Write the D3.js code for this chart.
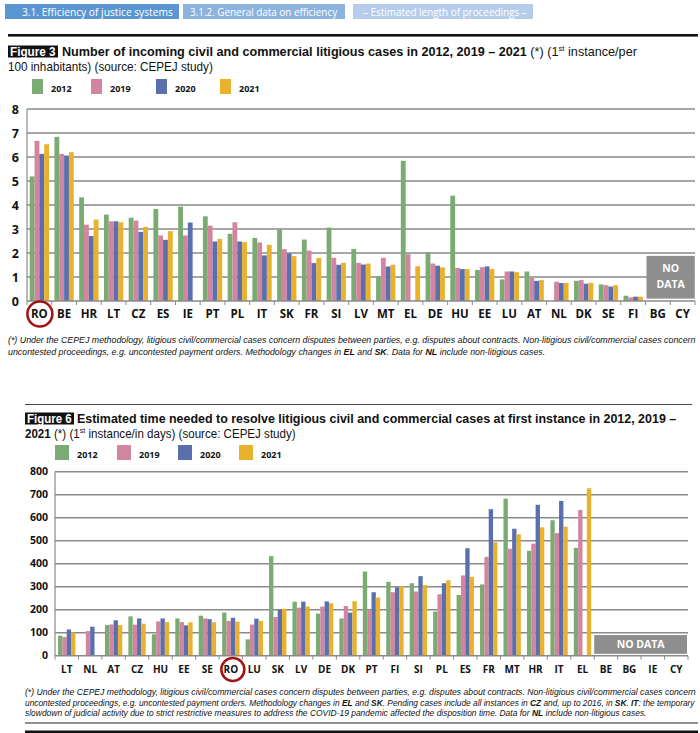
<!DOCTYPE html>
<html><head><meta charset="utf-8">
<script src="https://cdn.jsdelivr.net/npm/d3@7"></script>
<style>body{margin:0;background:#fff}svg{display:block}</style>
</head><body>
<svg id="c" width="700" height="733"></svg>
<script>
const seriesNames = ["2012","2019","2020","2021"];
const seriesColors = ["#7aab72","#d3859f","#5a6fae","#e9b12c"];

const fig3Categories = ["RO","BE","HR","LT","CZ","ES","IE","PT","PL","IT","SK","FR","SI","LV","MT","EL","DE","HU","EE","LU","AT","NL","DK","SE","FI","BG","CY"];
const fig3_2012 = [5.19,6.84,4.32,3.6,3.47,3.83,3.93,3.53,2.8,2.63,2.98,2.56,3.06,2.17,1.02,5.84,2.02,4.39,1.29,0.9,1.23,null,0.84,0.69,0.22,null,null];
const fig3_2019 = [6.67,6.13,3.18,3.32,3.35,2.73,2.73,3.14,3.28,2.44,2.16,2.1,1.8,1.59,1.8,1.95,1.56,1.38,1.41,1.23,0.97,0.8,0.87,0.66,0.15,null,null];
const fig3_2020 = [6.13,6.06,2.71,3.32,2.88,2.55,3.27,2.48,2.48,1.9,1.98,1.58,1.51,1.52,1.44,null,1.47,1.33,1.44,1.23,0.84,0.75,0.72,0.6,0.18,null,null];
const fig3_2021 = [6.53,6.2,3.39,3.28,3.09,2.91,null,2.59,2.45,2.34,1.87,1.8,1.59,1.56,1.51,1.45,1.4,1.33,1.33,1.2,0.87,0.75,0.76,0.66,0.18,null,null];
const fig3Ticks = [0,1,2,3,4,5,6,7,8];

const fig6Categories = ["LT","NL","AT","CZ","HU","EE","SE","RO","LU","SK","LV","DE","DK","PT","FI","SI","PL","ES","FR","MT","HR","IT","EL","BE","BG","IE","CY"];
const fig6_2012 = [87,null,133,171,93,162,174,188,71,433,235,183,162,366,321,315,192,264,310,683,456,589,469,null,null,null,null];
const fig6_2019 = [81,107,136,135,149,146,162,151,135,168,209,214,216,199,276,279,267,349,430,465,487,533,634,null,null,null,null];
const fig6_2020 = [114,126,154,162,162,132,159,165,161,199,235,236,187,276,297,346,315,467,637,552,656,673,null,null,null,null,null];
const fig6_2021 = [101,null,133,139,146,145,145,148,151,204,214,228,237,253,302,307,328,343,493,528,558,561,728,null,null,null,null];
const fig6Ticks = [0,100,200,300,400,500,600,700,800];

const svg = d3.select("#c");
const FONT = "'Open Sans', 'DejaVu Sans', sans-serif";
const TFONT = "'Liberation Sans', Arial, sans-serif";

// text line made of parts; fitted to targetW, or scaled by fixed factor opts.scale
function line(x, y, parts, size, targetW, opts={}) {
  const g = svg.append("g").attr("transform", `translate(${x},${y})`);
  const t = g.append("text").attr("x",0).attr("y",0)
    .style("font-family", opts.family || TFONT).style("font-size", size+"px")
    .attr("fill", opts.fill || "#111");
  let pendingDy = 0;
  parts.forEach(p => {
    const ts = t.append("tspan").text(p.t)
      .style("font-weight", p.b?"bold":"normal")
      .style("font-style", (p.i||opts.italic)?"italic":"normal");
    if (p.sup) {
      ts.attr("dy", -size*0.38).style("font-size",(size*0.62)+"px");
      pendingDy = size*0.38;
    } else if (pendingDy) {
      ts.attr("dy", pendingDy); pendingDy = 0;
    }
  });
  let s = opts.scale || 1;
  if (targetW) s = targetW / t.node().getBBox().width;
  g.attr("transform", `translate(${x},${y}) scale(${s},1)`);
  return s;
}

// header buttons
const buttons = [
  {x:5,w:174,fill:"#5a96d2",t:"3.1. Efficiency of justice systems",tx:22,tw:151},
  {x:183,w:162,fill:"#8cb2de",t:"3.1.2. General data on efficiency",tx:190,tw:148},
  {x:353,w:180,fill:"#b5cdea",t:"– Estimated length of proceedings –",tx:363,tw:164}
];
buttons.forEach(b => {
  svg.append("rect").attr("x",b.x).attr("y",4).attr("width",b.w).attr("height",15).attr("fill",b.fill);
  line(b.tx, 15.5, [{t:b.t}], 10.5, b.tw, {fill:"#fff", family:FONT});
});
svg.append("rect").attr("x",8).attr("y",34).attr("width",690).attr("height",2.6).attr("fill","#111");

// ---------- Figure 3 ----------
svg.append("rect").attr("x",8).attr("y",45.5).attr("width",50).attr("height",12).attr("fill","#111");
line(10, 56, [{t:"Figure 3",b:true}], 12, 46, {fill:"#fff"});
line(62, 56, [{t:"Number of incoming civil and commercial litigious cases in 2012, 2019 – 2021",b:true},{t:" (*) (1"},{t:"st",sup:true},{t:" instance/per"}], 13, 576);
line(8, 71, [{t:"100 inhabitants) (source: CEPEJ study)"}], 13, 205);

function legend(x0, y, positions, sw, sh, textDx) {
  seriesNames.forEach((n,i) => {
    svg.append("rect").attr("x",x0+positions[i]).attr("y",y-sh+2).attr("width",sw).attr("height",sh).attr("fill",seriesColors[i]);
    svg.append("text").attr("x",x0+positions[i]+textDx).attr("y",y).text(n)
      .style("font-family",FONT).style("font-weight","bold").style("font-size","9px").attr("fill","#111");
  });
}
legend(32, 92, [0,59,124,188], 11, 15, 19);

function chart(cfg) {
  const {cats, series, ticks, x0r, yr, yMax, padIn, labelSize, ylabelSize, labelY, ylabelX} = cfg;
  const x0 = d3.scaleBand().domain(cats).range(x0r).paddingInner(padIn).paddingOuter(padIn/2);
  const x1 = d3.scaleBand().domain(seriesNames).range([0, x0.bandwidth()]);
  const y = d3.scaleLinear().domain([0,yMax]).range(yr);
  const g = svg.append("g");
  g.selectAll(".grid").data(ticks.slice(1)).join("line")
    .attr("x1",x0r[0]).attr("x2",x0r[1]).attr("y1",d=>y(d)).attr("y2",d=>y(d))
    .attr("stroke","#8a8a8a").attr("stroke-width",1.4);
  const data = [];
  cats.forEach((c,ci) => series.forEach((s,si) => { if (s[ci]!=null) data.push({c, n:seriesNames[si], v:s[ci], col:seriesColors[si]}); }));
  g.selectAll(".bar").data(data).join("rect")
    .attr("x", d=>x0(d.c)+x1(d.n)).attr("width", x1.bandwidth())
    .attr("y", d=>y(d.v)).attr("height", d=>y(0)-y(d.v)).attr("fill", d=>d.col);
  g.append("line").attr("x1",x0r[0]).attr("x2",x0r[0]).attr("y1",yr[1]).attr("y2",yr[0]).attr("stroke","#8a8a8a").attr("stroke-width",1.2);
  g.append("line").attr("x1",x0r[0]).attr("x2",x0r[1]).attr("y1",y(0)).attr("y2",y(0)).attr("stroke","#8a8a8a").attr("stroke-width",1.4);
  const step = x0.step();
  d3.range(cats.length+1).forEach(i => {
    const xx = x0r[0] + i*step;
    g.append("line").attr("x1",xx).attr("x2",xx).attr("y1",y(0)).attr("y2",y(0)+4).attr("stroke","#8a8a8a").attr("stroke-width",1);
  });
  g.selectAll(".yl").data(ticks).join("text")
    .attr("x", ylabelX).attr("y", d=>y(d)+ylabelSize*0.36).attr("text-anchor","end").text(d=>d)
    .style("font-family",FONT).style("font-weight","bold").style("font-size",ylabelSize+"px").attr("fill","#111");
  g.selectAll(".xl").data(cats).join("text")
    .attr("x", d=>x0(d)+x0.bandwidth()/2).attr("y", labelY).attr("text-anchor","middle").text(d=>d)
    .style("font-family",FONT).style("font-weight","bold").style("font-size",labelSize+"px").attr("fill","#111");
  return {x0, y, step};
}

const c3 = chart({cats:fig3Categories, series:[fig3_2012,fig3_2019,fig3_2020,fig3_2021], ticks:fig3Ticks,
  x0r:[27,695], yr:[301,109], yMax:8, padIn:0.22, labelSize:11.5, ylabelSize:12.5, labelY:318, ylabelX:19});
{
  const bx = c3.x0("BG") - c3.step*0.07, bw = c3.step*2 - c3.step*0.05;
  svg.append("rect").attr("x",bx).attr("y",c3.y(1.88)).attr("width",bw).attr("height",c3.y(0.1)-c3.y(1.88)).attr("fill","#8e8e8e");
  svg.append("text").attr("x",bx+bw/2).attr("y",c3.y(1.2)).attr("text-anchor","middle").text("NO")
    .style("font-family",FONT).style("font-weight","bold").style("font-size","10.5px").attr("fill","#fff");
  svg.append("text").attr("x",bx+bw/2).attr("y",c3.y(0.55)).attr("text-anchor","middle").text("DATA")
    .style("font-family",FONT).style("font-weight","bold").style("font-size","10.5px").attr("fill","#fff");
  svg.append("circle").attr("cx",c3.x0("RO")+c3.x0.bandwidth()/2+0.5).attr("cy",314).attr("r",12.5)
    .attr("fill","none").attr("stroke","#a31515").attr("stroke-width",2.6);
}
{
  const s = line(8, 343, [{t:"(*) Under the CEPEJ methodology, litigious civil/commercial cases concern disputes between parties, e.g. disputes about contracts. Non-litigious civil/commercial cases concern"}], 8.5, 689, {italic:true});
  line(8, 355, [{t:"uncontested proceedings, e.g. uncontested payment orders. Methodology changes in "},{t:"EL",b:true},{t:" and "},{t:"SK",b:true},{t:". Data for "},{t:"NL",b:true},{t:" include non-litigious cases."}], 8.5, null, {italic:true, scale:s});
}

// ---------- Figure 6 ----------
svg.append("rect").attr("x",25).attr("y",404).attr("width",667).attr("height",1).attr("fill","#444");
svg.append("rect").attr("x",25).attr("y",412.5).attr("width",49).attr("height",12).attr("fill","#111");
line(27, 423, [{t:"Figure 6",b:true}], 12, 45, {fill:"#fff"});
line(77, 423, [{t:"Estimated time needed to resolve litigious civil and commercial cases at first instance in 2012, 2019 –",b:true}], 13, 600);
line(25, 438, [{t:"2021",b:true},{t:" (*) (1"},{t:"st",sup:true},{t:" instance/in days) (source: CEPEJ study)"}], 13, 271);
legend(55, 458, [0,62,123,184], 14, 15, 22);

const c6 = chart({cats:fig6Categories, series:[fig6_2012,fig6_2019,fig6_2020,fig6_2021], ticks:fig6Ticks,
  x0r:[55,688], yr:[655.7,471.7], yMax:800, padIn:0.26, labelSize:10, ylabelSize:10.5, labelY:673, ylabelX:48});
{
  const bx = c6.x0("BE") - c6.step*0.13, bw = c6.step*4 - 1;
  svg.append("rect").attr("x",bx).attr("y",c6.y(90)).attr("width",bw).attr("height",c6.y(8)-c6.y(90)).attr("fill","#8e8e8e");
  svg.append("text").attr("x",bx+bw/2).attr("y",c6.y(49)+4).attr("text-anchor","middle").text("NO DATA")
    .style("font-family",FONT).style("font-weight","bold").style("font-size","10.5px").attr("fill","#fff");
  svg.append("circle").attr("cx",c6.x0("RO")+c6.x0.bandwidth()/2+2).attr("cy",669.5).attr("r",11.5)
    .attr("fill","none").attr("stroke","#a31515").attr("stroke-width",2.6);
}
{
  const s = line(25, 695, [{t:"(*) Under the CEPEJ methodology, litigious civil/commercial cases concern disputes between parties, e.g. disputes about contracts. Non-litigious civil/commercial cases concern"}], 8.5, 672, {italic:true});
  line(25, 705.5, [{t:"uncontested proceedings, e.g. uncontested payment orders. Methodology changes in "},{t:"EL",b:true},{t:" and "},{t:"SK",b:true},{t:". Pending cases include all instances in "},{t:"CZ",b:true},{t:" and, up to 2016, in "},{t:"SK",b:true},{t:". "},{t:"IT",b:true},{t:": the temporary"}], 8.5, 672, {italic:true});
  line(25, 716, [{t:"slowdown of judicial activity due to strict restrictive measures to address the COVID-19 pandemic affected the disposition time. Data for "},{t:"NL",b:true},{t:" include non-litigious cases."}], 8.5, 622, {italic:true});
}
svg.append("rect").attr("x",25).attr("y",722.5).attr("width",673).attr("height",1).attr("fill","#222");
svg.append("rect").attr("x",25).attr("y",730.5).attr("width",673).attr("height",2.5).attr("fill","#111");
</script>
</body></html>
